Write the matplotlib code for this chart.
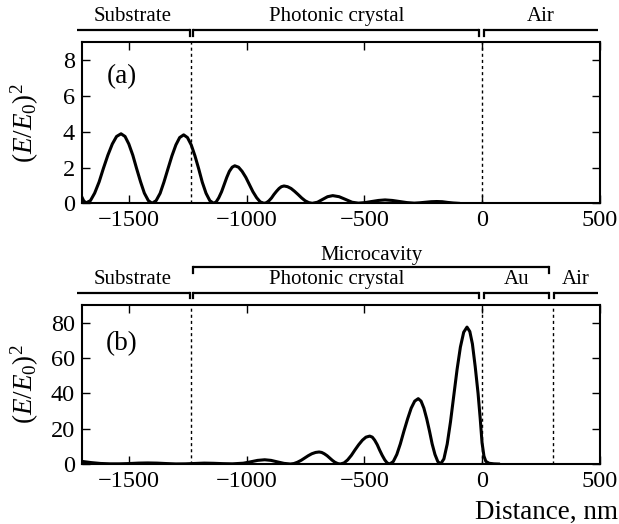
import matplotlib
matplotlib.use('Agg')
import matplotlib.pyplot as plt
import numpy as np

plt.rcParams['font.family'] = ['Liberation Serif', 'DejaVu Serif']
plt.rcParams['mathtext.fontset'] = 'custom'
plt.rcParams['mathtext.rm'] = 'Liberation Serif'
plt.rcParams['mathtext.it'] = 'Liberation Serif:italic'
plt.rcParams['axes.unicode_minus'] = True

# (a) photonic crystal only
dist_a = [-1700, -1692, -1682,
          -1663, -1645, -1626, -1608, -1589, -1570, -1552, -1533,
          -1516, -1500, -1483, -1467, -1450, -1434, -1417, -1401,
          -1384, -1367, -1351, -1334, -1317, -1300, -1284, -1267,
          -1251, -1235, -1219, -1203, -1188, -1172, -1156, -1140,
          -1129, -1118, -1106, -1095, -1084, -1073, -1061, -1050,
          -1034, -1019, -1003, -988, -973, -957, -942, -926,
          -915, -905, -894, -884, -873, -862, -852, -841,
          -826, -811, -796, -781, -766, -751, -736, -721,
          -699, -677, -656, -634, -607, -580, -552, -525,
          -497, -469, -440, -412, -381, -350, -319, -288,
          -264, -240, -216, -192, -169, -146, -123, -100]
field_a = [0.37, 0.15, 0.02,
           0.15, 0.57, 1.20, 1.95, 2.69, 3.32, 3.74, 3.89,
           3.74, 3.32, 2.69, 1.95, 1.20, 0.57, 0.15, 0.0,
           0.15, 0.56, 1.18, 1.92, 2.65, 3.27, 3.68, 3.83,
           3.68, 3.27, 2.65, 1.92, 1.18, 0.56, 0.15, 0.0,
           0.08, 0.31, 0.65, 1.05, 1.45, 1.79, 2.02, 2.10,
           2.02, 1.79, 1.45, 1.05, 0.65, 0.31, 0.08, 0.0,
           0.04, 0.14, 0.30, 0.49, 0.67, 0.83, 0.93, 0.97,
           0.93, 0.83, 0.67, 0.49, 0.30, 0.14, 0.04, 0.0,
           0.06, 0.22, 0.37, 0.43, 0.37, 0.22, 0.06, 0.01,
           0.04, 0.10, 0.16, 0.19, 0.16, 0.10, 0.04, 0.01,
           0.03, 0.06, 0.09, 0.10, 0.09, 0.05, 0.02, 0.0]

# (b) microcavity with Au layer
dist_b = [-1700, -1660, -1620, -1580, -1540, -1500, -1460, -1420, -1380, -1340,
          -1300, -1260, -1220, -1180, -1140, -1100, -1060,
          -1014, -984, -953, -923, -896, -869, -841, -814,
          -799, -784, -768, -753, -738, -723, -707, -692,
          -681, -670, -658, -647, -636, -625, -613, -602,
          -586, -571, -555, -540, -524, -508, -493, -477,
          -466, -456, -445, -435, -424, -413, -403, -392,
          -377, -362, -347, -332, -316, -301, -286, -271,
          -259, -247, -235, -223, -212, -200, -188, -176,
          -162, -148, -134, -120, -106, -92, -78, -64,
          -52, -41, -29, -17, -8, 0, 8, 16, 30, 50, 70]
field_b = [1.5, 0.8, 0.3, 0.1, 0.1, 0.25, 0.5, 0.6, 0.5, 0.25,
           0.05, 0.1, 0.3, 0.5, 0.4, 0.2, 0.1,
           0.45, 1.2, 2.05, 2.4, 2.05, 1.2, 0.35, 0.0,
           0.26, 1.0, 2.1, 3.4, 4.7, 5.8, 6.54, 6.8,
           6.54, 5.8, 4.7, 3.4, 2.1, 1.0, 0.26, 0.0,
           0.6, 2.3, 4.9, 7.9, 10.9, 13.5, 15.2, 15.8,
           15.2, 13.5, 10.9, 7.9, 4.9, 2.3, 0.6, 0.0,
           1.4, 5.4, 11.4, 18.5, 25.6, 31.6, 35.6, 37.0,
           35.6, 31.6, 25.6, 18.5, 11.4, 5.4, 1.4, 0.0,
           2.9, 11.3, 23.9, 38.8, 53.6, 66.2, 74.6, 77.5,
           75.0, 68.0, 55.0, 40.0, 26.0, 12.0, 4.5, 1.5, 0.4, 0.1, 0.0]

x_ticks = [-1500, -1000, -500, 0, 500]
yticks_a = [0, 2, 4, 6, 8]
yticks_b = [0, 20, 40, 60, 80]

bounds_a = [-1237, 0]
bounds_b = [-1237, 0, 300]

# region brackets: (start, end, tick left, tick right, label)
regions_a = [(-1722, -1242, False, True, 'Substrate'),
             (-1226, -12, True, True, 'Photonic crystal'),
             (10, 491, True, False, 'Air')]
regions_b = [(-1722, -1242, False, True, 'Substrate'),
             (-1226, -12, True, True, 'Photonic crystal'),
             (10, 285, True, True, 'Au'),
             (305, 491, True, False, 'Air')]
cavity_b = (-1226, 285, 'Microcavity')

fig = plt.figure(figsize=(6.19, 5.24), dpi=100)
ax_a = fig.add_axes([0.132, 0.612, 0.837, 0.307])
ax_b = fig.add_axes([0.132, 0.1145, 0.837, 0.3034])


def bracket(ax, x0, x1, y, tl, tr, h):
    tr_ = ax.get_xaxis_transform()
    ax.plot([x0, x1], [y, y], color='k', lw=1.6, transform=tr_, clip_on=False,
            solid_capstyle='butt')
    if tl:
        ax.plot([x0, x0], [y, y - h], color='k', lw=1.6, transform=tr_, clip_on=False)
    if tr:
        ax.plot([x1, x1], [y, y - h], color='k', lw=1.6, transform=tr_, clip_on=False)


def style(ax, yticks, ylim, label, ly):
    ax.set_xlim(-1700, 500)
    ax.set_ylim(*ylim)
    ax.set_xticks(x_ticks)
    ax.set_yticks(yticks)
    ax.tick_params(direction='in', top=True, right=True, length=5.5, width=1,
                   labelsize=17.5, pad=5)
    for s in ax.spines.values():
        s.set_linewidth(1.5)
    ax.set_ylabel(r'$(E/E_0)^2$', fontsize=19.5)
    ax.yaxis.set_label_coords(-0.078, 0.5)
    ax.text(0.077, ly, label, transform=ax.transAxes, fontsize=19.5,
            ha='center', va='center')


ax_a.plot(dist_a, field_a, color='k', lw=2.2)
for b in bounds_a:
    ax_a.axvline(b, color='k', lw=1.0, linestyle=(0, (2.2, 2.2)))
style(ax_a, yticks_a, (0, 9), '(a)', 0.785)
for x0, x1, tl, tr, name in regions_a:
    bracket(ax_a, x0, x1, 1.076, tl, tr, 0.035)
    ax_a.text((x0 + x1) / 2, 1.16, name, transform=ax_a.get_xaxis_transform(),
              ha='center', va='center', fontsize=15)

ax_b.plot(dist_b, field_b, color='k', lw=2.2)
for b in bounds_b:
    ax_b.axvline(b, color='k', lw=1.0, linestyle=(0, (2.2, 2.2)))
style(ax_b, yticks_b, (0, 90), '(b)', 0.76)
for x0, x1, tl, tr, name in regions_b:
    bracket(ax_b, x0, x1, 1.077, tl, tr, 0.035)
    ax_b.text((x0 + x1) / 2, 1.16, name, transform=ax_b.get_xaxis_transform(),
              ha='center', va='center', fontsize=15)
bracket(ax_b, cavity_b[0], cavity_b[1], 1.242, True, True, 0.04)
ax_b.text((cavity_b[0] + cavity_b[1]) / 2, 1.31, cavity_b[2],
          transform=ax_b.get_xaxis_transform(), ha='center', va='center', fontsize=15)

fig.text(0.998, 1 - 512 / 524, 'Distance, nm', ha='right', va='center', fontsize=19.5)

fig.savefig('out.png', dpi=100)
